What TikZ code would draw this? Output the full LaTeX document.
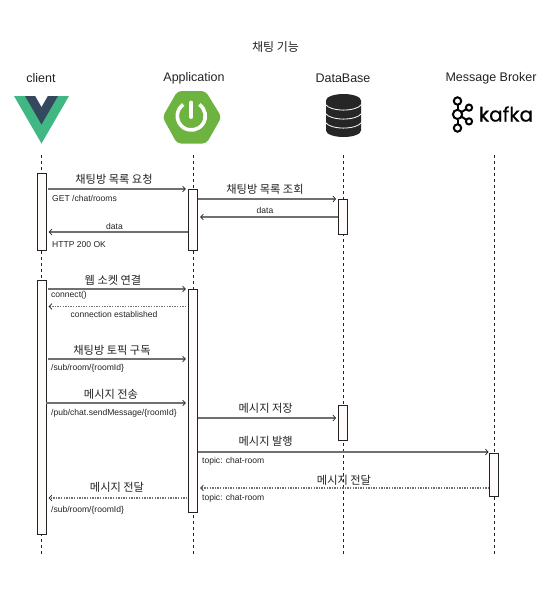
\documentclass[tikz,border=0pt]{standalone}
\usepackage{fontspec}
\setmainfont{Liberation Sans}
\newfontfamily\krfont{Noto Sans CJK KR}
\newfontfamily\kafkafont[FakeBold=0.6]{Poppins}
\usetikzlibrary{arrows.meta}
\definecolor{ink}{HTML}{222222}
\definecolor{flow}{HTML}{707070}
\definecolor{vuegreen}{HTML}{41B883}
\definecolor{vuedark}{HTML}{35495E}
\definecolor{springgreen}{HTML}{6DB33F}
\definecolor{dbgrey}{HTML}{262626}
\tikzset{
  lane/.style={draw=ink,line width=0.7pt,dash pattern=on 3pt off 3pt},
  actbox/.style={draw=ink,fill=red!1.5!white,line width=0.8pt,minimum width=9pt,inner sep=0pt,anchor=north},
  msgflow/.style={draw=flow,line width=1.1pt,-{Straight Barb[length=2.8pt,width=6pt,color=ink,line width=0.7pt]},shorten >=2.3pt,shorten <=0.5pt},
  backflow/.style={msgflow,draw=flow,dash pattern=on 1.4pt off 1.2pt},
  head/.style={text=ink,font=\fontsize{12.5}{14}\selectfont,inner sep=0pt},
  kr/.style={text=ink,font=\krfont\fontsize{11.2}{13}\selectfont,inner sep=0pt},
  sub/.style={text=ink,font=\fontsize{8.55}{10}\selectfont,inner sep=0pt},
  subl/.style={sub,anchor=west}
}
\begin{document}
\begin{tikzpicture}[x=1pt,y=-1pt]
\useasboundingbox (0,0) rectangle (550,600);
% title and heads
\node[kr,font=\krfont\fontsize{12}{14}\selectfont] (title) at (275.5,47) {채팅 기능};
\node[head] (hc) at (41,78) {client};
\node[head] (ha) at (194,78) {Application};
\node[head] (hd) at (343,78) {DataBase};
\node[head] (hm) at (491,78) {Message Broker};
% vue
\fill[vuegreen] (14,96)--(69,96)--(41.5,143.5)--cycle;
\fill[vuedark] (25,96)--(58,96)--(41.5,124.5)--cycle;
\fill[white] (35.3,96)--(47.7,96)--(41.5,106.8)--cycle;
% spring
\fill[springgreen,rounded corners=4pt] (177.5,91)--(205.5,91)--(221.5,117)--(206.5,143.5)--(177,143.5)--(162.5,117)--cycle;
\draw[white,line width=3.6pt] (191.3,116)++(-55:14) arc[start angle=55,end angle=-235,radius=14,y radius=-14];
\draw[white,line width=3.8pt,line cap=round] (191.3,102.5)--(191.3,117);
% database
\fill[dbgrey] (326,100.5) arc[start angle=180,end angle=0,x radius=17.5,y radius=-6.5] -- (361,130.5) arc[start angle=0,end angle=180,x radius=17.5,y radius=6.5] -- cycle;
\foreach \yy in {104.5,113.5,122.5}{
  \draw[white,line width=0.8pt] (325.5,\yy) .. controls (331,\yy+7.5) and (356,\yy+7.5) .. (361.5,\yy);
}
% kafka
\begin{scope}[draw=black,line width=2pt]
\draw (457.5,105)--(457.5,109.5) (457.5,119.5)--(457.5,124);
\draw (461.8,112)--(466,109.2) (461.8,116.8)--(466,119.6);
\draw (457.5,101) circle[radius=3.7];
\draw (457.5,128) circle[radius=3.7];
\draw (457.5,114.4) circle[radius=4.6];
\draw (469,107.6) circle[radius=3.1];
\draw (469,121.4) circle[radius=3.1];
\end{scope}
\node[inner sep=0pt,text=black,font=\kafkafont\fontsize{20}{22}\selectfont] (kafka) at (506,114) {kafka};
% lifelines
\coordinate (cT) at (41.5,155); \coordinate (cB) at (41.5,556);
\coordinate (aT) at (193,155); \coordinate (aB) at (193,556);
\coordinate (dT) at (343.3,155); \coordinate (dB) at (343.3,556);
\coordinate (mT) at (494,155); \coordinate (mB) at (494,556);
\draw[lane] (cT)--(cB);
\draw[lane] (aT)--(aB);
\draw[lane] (dT)--(dB);
\draw[lane] (mT)--(mB);
% activations
\node[actbox,minimum height=77pt] (c1) at (41.5,173.3) {};
\node[actbox,minimum height=254pt] (c2) at (41.5,280.3) {};
\node[actbox,minimum height=61pt] (a1) at (193,189.3) {};
\node[actbox,minimum height=223pt] (a2) at (193,289.3) {};
\node[actbox,minimum height=35pt] (d1) at (343.3,199.3) {};
\node[actbox,minimum height=35pt] (d2) at (343.3,405.3) {};
\node[actbox,minimum height=43pt] (m1) at (494,453.3) {};
% connectors
\draw[msgflow,shorten <=2pt] (c1.east |- 0,189) -- (a1.west |- 0,189);
\draw[msgflow] (a1.east |- 0,199) -- (d1.west |- 0,199);
\draw[msgflow] (d1.west |- 0,217) -- (a1.east |- 0,217);
\draw[msgflow] (a1.west |- 0,232) -- (c1.east |- 0,232);
\draw[msgflow,shorten <=2pt] (c2.east |- 0,289) -- (a2.west |- 0,289);
\draw[backflow,shorten <=2pt] (a2.west |- 0,306.5) -- (c2.east |- 0,306.5);
\draw[msgflow,shorten <=2pt] (c2.east |- 0,359) -- (a2.west |- 0,359);
\draw[msgflow,shorten <=0pt] (c2.east |- 0,403) -- (a2.west |- 0,403);
\draw[msgflow] (a2.east |- 0,418) -- (d2.west |- 0,418);
\draw[msgflow,shorten <=0pt,shorten >=0.5pt] (a2.east |- 0,452) -- (m1.west |- 0,452);
\draw[backflow,shorten <=0pt] (m1.west |- 0,488) -- (a2.east |- 0,488);
\draw[backflow,shorten <=1pt] (a2.west |- 0,498) -- (c2.east |- 0,498);
% labels
\node[kr] (l1) at (114,179) {채팅방 목록 요청};
\node[subl] (s1) at (52,198.3) {GET /chat/rooms};
\node[kr] (l2) at (265,189.5) {채팅방 목록 조회};
\node[sub] (l3) at (265,210) {data};
\node[sub] (l4) at (114.5,226) {data};
\node[subl] (s4) at (52,244.3) {HTTP 200 OK};
\node[kr] (l5) at (113,280) {웹 소켓 연결};
\node[subl] (s5) at (51,295.3) {connect()};
\node[sub] (l6) at (114,314.3) {connection established};
\node[kr] (l7) at (112,350) {채팅방 토픽 구독};
\node[subl] (s7) at (51,368.3) {/sub/room/\{roomId\}};
\node[kr] (l8) at (111,394) {메시지 전송};
\node[subl] (s8) at (51,413.3) {/pub/chat.sendMessage/\{roomId\}};
\node[kr] (l9) at (265.7,408) {메시지 저장};
\node[kr] (l10) at (265.7,441) {메시지 발행};
\node[subl] (s10) at (202,461.3) {topic: chat-room};
\node[kr] (l11) at (344,480) {메시지 전달};
\node[subl] (s11) at (202,498.3) {topic: chat-room};
\node[kr] (l12) at (117,487) {메시지 전달};
\node[subl] (s12) at (51,510.3) {/sub/room/\{roomId\}};
\end{tikzpicture}
\end{document}
